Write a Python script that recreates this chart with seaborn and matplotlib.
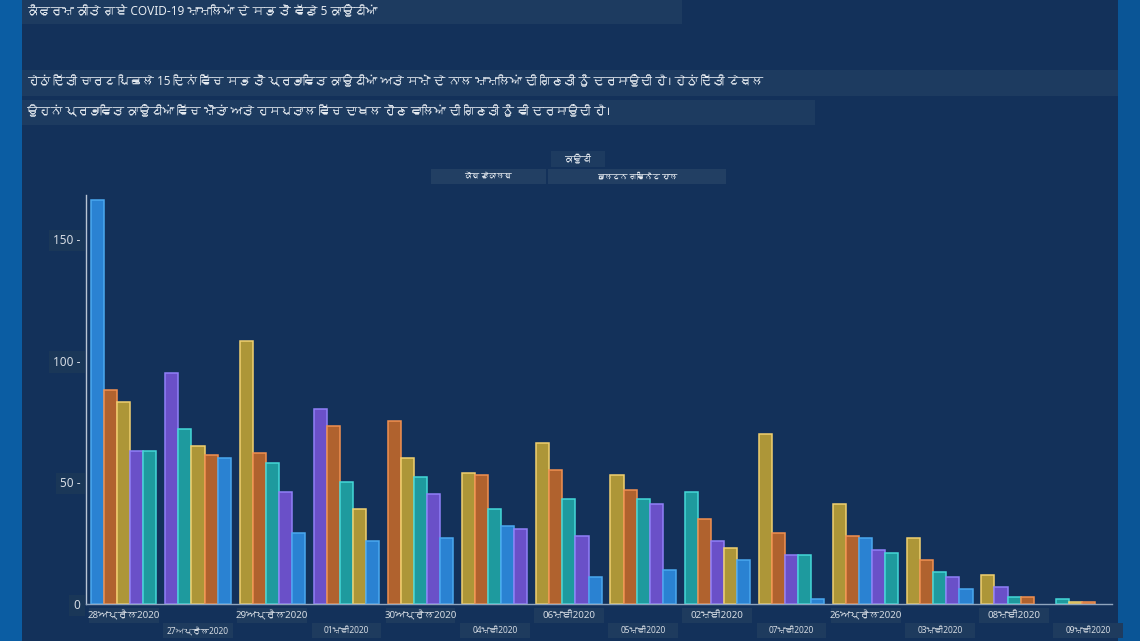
import numpy as np
import pandas as pd
import seaborn as sns
import matplotlib.pyplot as plt
from matplotlib import font_manager, ft2font
from matplotlib.patches import Rectangle
from matplotlib.transforms import blended_transform_factory

nan = np.nan

# dates in the order the chart shows them (sorted by total cases)
dates = ['28ਅਪ੍ਰੈਲ2020', '27ਅਪ੍ਰੈਲ2020', '29ਅਪ੍ਰੈਲ2020', '01ਮਈ2020', '30ਅਪ੍ਰੈਲ2020',
         '04ਮਈ2020', '06ਮਈ2020', '05ਮਈ2020', '02ਮਈ2020', '07ਮਈ2020',
         '26ਅਪ੍ਰੈਲ2020', '03ਮਈ2020', '08ਮਈ2020', '09ਮਈ2020']

counties = ['ਫੁਲਟਨ', 'ਗਵਿਨੈਟ', 'ਕੌਬ', 'ਹਾਲ', 'ਡੇਕਾਲਬ']
fulton   = [166, 60, 29, 26, 27, 32, 11, 14, 18, 2, 27, 6, nan, nan]
gwinnett = [83, 65, 108, 39, 60, 54, 66, 53, 23, 70, 41, 27, 12, 1]
cobb     = [63, 95, 46, 80, 45, 31, 28, 41, 26, 20, 22, 11, 7, nan]
hall     = [63, 72, 58, 50, 52, 39, 43, 43, 46, 20, 21, 13, 3, 2]
dekalb   = [88, 61, 62, 73, 75, 53, 55, 47, 35, 29, 28, 18, 3, 1]

fills = ['#2a82d2', '#ad9638', '#6a50c8', '#1e9a9e', '#b0622e']
edges = ['#4aa8f0', '#f0d070', '#9080f8', '#44d8d8', '#f09050']

title = 'ਕੰਫਰਮ ਕੀਤੇ ਗਏ COVID-19 ਮਾਮਲਿਆਂ ਦੇ ਸਭ ਤੋਂ ਵੱਡੇ 5 ਕਾਉਂਟੀਆਂ'
line1 = ('ਹੇਠਾਂ ਦਿੱਤੀ ਚਾਰਟ ਪਿਛਲੇ 15 ਦਿਨਾਂ ਵਿੱਚ ਸਭ ਤੋਂ ਪ੍ਰਭਾਵਿਤ ਕਾਉਂਟੀਆਂ ਅਤੇ ਸਮੇਂ ਦੇ ਨਾਲ '
         'ਮਾਮਲਿਆਂ ਦੀ ਗਿਣਤੀ ਨੂੰ ਦਰਸਾਉਂਦੀ ਹੈ। ਹੇਠਾਂ ਦਿੱਤੀ ਟੇਬਲ')
line2 = 'ਉਹਨਾਂ ਪ੍ਰਭਾਵਿਤ ਕਾਉਂਟੀਆਂ ਵਿੱਚ ਮੌਤਾਂ ਅਤੇ ਹਸਪਤਾਲ ਵਿੱਚ ਦਾਖਲ ਹੋਣ ਵਾਲਿਆਂ ਦੀ ਗਿਣਤੀ ਨੂੰ ਵੀ ਦਰਸਾਉਂਦੀ ਹੈ।'
legend_title = 'ਕਾਉਂਟੀ'
legend_items = ['ਕੌਬ ਡੇਕਾਲਬ', 'ਫੁਲਟਨ ਗਵਿਨੈਟ ਹਾਲ']

# look for an installed font that has Gurmukhi glyphs
guru = None
for f in font_manager.fontManager.ttflist:
    try:
        if 0x0A15 in ft2font.FT2Font(f.fname).get_charmap():
            guru = f.name
            break
    except Exception:
        pass

BG = '#13315a'
BOX = '#1d3b60'
TXT = '#e6ebf1'

sns.set_style('dark', {'axes.facecolor': BG, 'figure.facecolor': BG})
plt.rcParams['font.family'] = ['Noto Sans'] + ([guru] if guru else []) + ['DejaVu Sans']

# tidy table, bars ranked by size inside each date
rows = []
for ci, vals in enumerate([fulton, gwinnett, cobb, hall, dekalb]):
    for di, v in enumerate(vals):
        if not np.isnan(v):
            rows.append({'date': dates[di], 'di': di, 'ci': ci, 'cases': v})
df = pd.DataFrame(rows)
df['rank'] = df.sort_values(['di', 'cases', 'ci'], ascending=[True, False, True]) \
    .groupby('di').cumcount()
lookup = {(r.di, r['rank']): r.ci for _, r in df.iterrows()}

fig = plt.figure(figsize=(11.4, 6.41), dpi=100)
W, H = 1140, 641


def fx(x):
    return x / W


def fy(y):
    return 1 - y / H


def fbox(x0, y0, x1, y1, color):
    fig.add_artist(Rectangle((fx(x0), fy(y1)), fx(x1 - x0), (y1 - y0) / H,
                             transform=fig.transFigure, color=color, lw=0, zorder=0))


# frame strips
fbox(0, 0, 22, 641, '#0b5da3')
fbox(1118, 0, 1140, 641, '#0a5596')

# header texts
fbox(22, 0, 682, 24, BOX)
fig.text(fx(27), fy(12), title, color=TXT, fontsize=8.5, va='center')
fbox(22, 70, 1118, 96, BOX)
fig.text(fx(27), fy(82), line1, color=TXT, fontsize=8.5, va='center')
fbox(22, 100, 815, 125, BOX)
fig.text(fx(27), fy(112), line2, color=TXT, fontsize=8.5, va='center')

# legend
fbox(551, 151, 605, 167, BOX)
fig.text(fx(578), fy(159), legend_title, color=TXT, fontsize=6.5, ha='center', va='center')
fbox(431, 169, 546, 184, '#223f63')
fig.text(fx(488), fy(176.5), legend_items[0], color=TXT, fontsize=5.5, ha='center', va='center')
fbox(548, 169, 726, 184, '#223f63')
fig.text(fx(637), fy(176.5), legend_items[1], color=TXT, fontsize=5.5, ha='center', va='center')

ax = fig.add_axes([fx(86), 1 - 604 / H, fx(1112 - 86), (604 - 195) / H])
sns.barplot(data=df, x='date', y='cases', hue='rank', order=dates,
            hue_order=[0, 1, 2, 3, 4], width=0.88, errorbar=None,
            legend=False, ax=ax)

for r, cont in enumerate(ax.containers):
    for bar in cont:
        di = int(round(bar.get_x() + bar.get_width() / 2))
        ci = lookup.get((di, r))
        if ci is None:
            continue
        bar.set_facecolor(fills[ci])
        bar.set_edgecolor(edges[ci])
        bar.set_linewidth(1.1)

ax.set_xlim(-0.51, 13.32)
ax.set_ylim(0, 168)
ax.set_xlabel('')
ax.set_ylabel('')
ax.grid(False)
for s in ['top', 'right']:
    ax.spines[s].set_visible(False)
ax.spines['left'].set_color('#b8c4d4')
ax.spines['left'].set_linewidth(1)
ax.spines['bottom'].set_color('#8fa4bd')
ax.spines['bottom'].set_linewidth(1)

ax.set_yticks([0, 50, 100, 150])
ax.set_yticklabels(['0', '50 -', '100 -', '150 -'])
ax.tick_params(axis='y', length=0, pad=4, labelsize=8.5, labelcolor='#d5dbe3')
for lab in ax.get_yticklabels():
    lab.set_bbox(dict(facecolor='#1a3758', edgecolor='none', pad=3))

# date labels on two alternating rows
ax.set_xticks([])
tr = blended_transform_factory(ax.transData, ax.transAxes)
for i, d in enumerate(dates):
    row = i % 2
    y0 = -0.010 - row * 0.037
    ax.add_patch(Rectangle((i - 0.47, y0 - 0.036), 0.94, 0.036, transform=tr,
                           color='#1e3b5e', lw=0, clip_on=False, zorder=0))
    ax.text(i, y0 - 0.018, d, transform=tr, ha='center', va='center',
            color='#d5dbe3', fontsize=7 if row == 0 else 6)

fig.savefig('out.png', dpi=100, facecolor=fig.get_facecolor())
